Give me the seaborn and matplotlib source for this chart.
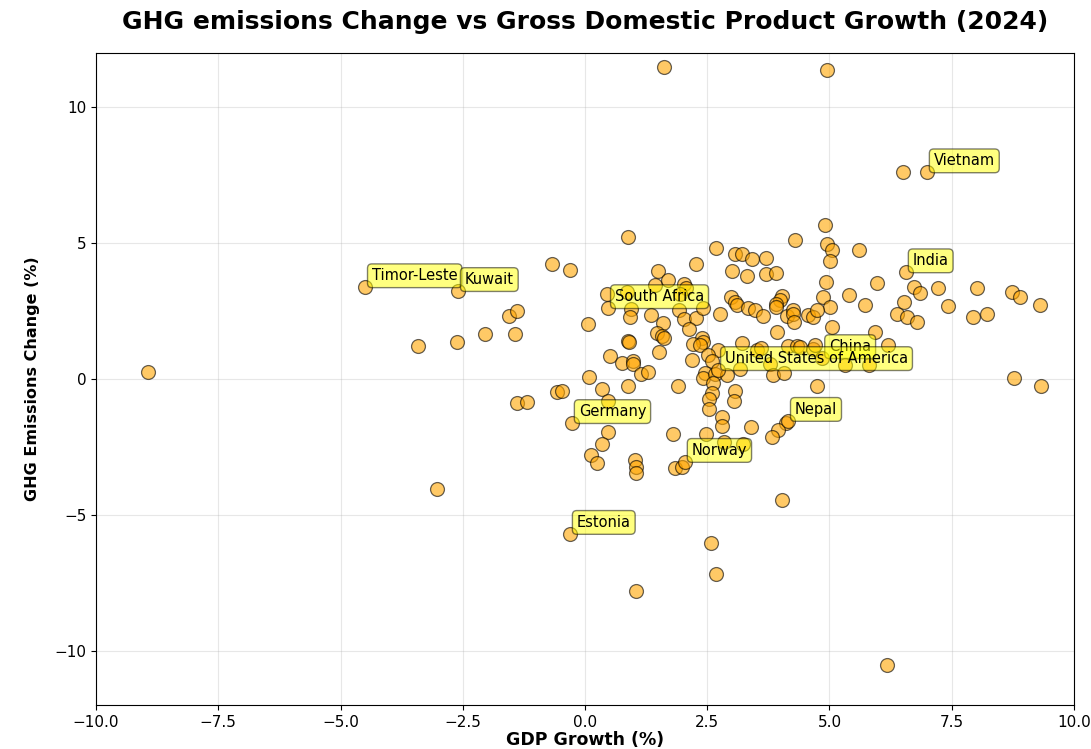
import matplotlib
matplotlib.use("Agg")
import matplotlib.pyplot as plt
import seaborn as sns
import pandas as pd

# Labelled countries
labeled_names = ["Timor-Leste", "Kuwait", "South Africa", "China",
                 "United States of America", "India", "Vietnam",
                 "Germany", "Estonia", "Norway", "Nepal"]
labeled_gdp = [-4.50, -2.60, 0.47, 4.85, 2.72, 6.56, 6.99, -0.27, -0.31, 2.04, 4.15]
labeled_ghg = [3.38, 3.24, 2.61, 0.77, 0.33, 3.93, 7.61, -1.62, -5.70, -3.05, -1.54]

# Other countries (GDP growth %, GHG change %)
other_gdp = [
    -8.94, -3.42, -2.62, -2.04, -1.43, -1.55, -1.39, -3.03, -1.39, -1.19,
    -0.67, -0.31, -0.57, -0.47,
    0.88, 0.06, 0.45, 0.86, 0.94, 0.92, 0.51, 0.76, 0.98, 0.98,
    1.15, 1.29, 0.08, 0.35, 0.88, 0.47, 0.47, 0.35, 0.12, 0.25,
    1.02, 1.04, 1.04, 1.43, 1.49, 1.70, 1.35, 1.60, 0.88, 0.90,
    1.47, 1.57, 1.62, 1.51, 1.90, 1.80, 1.84, 1.98, 1.04, 1.62,
    2.02, 2.07, 2.27, 2.68, 1.94, 1.92, 2.02, 2.27, 2.41, 2.76,
    2.13, 2.39, 2.41, 2.21, 2.35, 2.72, 2.19, 2.52, 2.60, 2.45,
    2.41, 2.66, 2.62, 2.60, 2.54, 2.54, 2.80, 2.80, 2.47, 2.84,
    2.58, 2.68,
    3.07, 3.21, 3.42, 3.70, 3.01, 3.31, 3.70, 3.91, 2.99, 3.07,
    3.11, 3.33, 3.48, 3.64, 4.03, 3.99, 3.91, 3.91, 4.13, 4.25,
    4.25, 4.27, 3.93, 3.21, 3.52, 3.60, 4.15, 4.34, 4.40, 3.17,
    2.90, 3.78, 3.84, 4.07, 3.07, 3.05, 3.39, 3.23, 4.03, 4.29,
    4.11, 3.95, 3.82,
    4.91, 4.95, 5.05, 5.01, 4.93, 4.87, 5.01, 5.05, 4.56, 4.66,
    4.74, 4.66, 4.70, 4.74, 5.40, 5.73, 5.60, 5.97, 5.93, 6.38,
    6.58, 6.52, 5.32, 5.81, 6.20, 4.95,
    6.50, 6.73, 6.85, 7.22, 8.02, 8.73, 8.90, 9.30, 7.42, 6.79,
    7.93, 8.22, 8.77, 9.33, 6.18,
]
other_ghg = [
    0.26, 1.21, 1.36, 1.65, 1.65, 2.32, 2.50, -4.04, -0.88, -0.85,
    4.23, 4.01, -0.48, -0.44,
    5.22, 2.02, 3.13, 3.20, 2.57, 2.28, 0.85, 0.59, 0.66, 0.55,
    0.18, 0.26, 0.07, -0.37, -0.26, -0.81, -1.95, -2.39, -2.79, -3.09,
    -2.98, -3.24, -3.46, 3.46, 3.97, 3.64, 2.35, 2.06, 1.40, 1.36,
    1.69, 1.58, 1.51, 0.99, -0.26, -2.02, -3.27, -3.24, -7.79, 11.47,
    3.49, 3.35, 4.23, 4.82, 3.13, 2.54, 2.21, 2.24, 2.61, 2.39,
    1.84, 1.51, 1.36, 1.29, 1.25, 1.07, 0.70, 0.88, 0.66, 0.22,
    0.04, 0.18, -0.15, -0.51, -0.74, -1.10, -1.40, -1.73, -2.02, -2.32,
    -6.03, -7.17,
    4.60, 4.60, 4.41, 4.45, 3.97, 3.79, 3.86, 3.90, 3.01, 2.83,
    2.72, 2.61, 2.54, 2.32, 3.05, 2.90, 2.76, 2.65, 2.32, 2.54,
    2.39, 2.10, 1.73, 1.32, 1.07, 1.14, 1.21, 1.21, 1.18, 0.37,
    0.15, 0.55, 0.15, 0.22, -0.44, -0.81, -1.76, -2.39, -4.45, 5.11,
    -1.62, -1.88, -2.13,
    5.66, 4.96, 4.74, 4.34, 3.57, 3.01, 2.65, 1.91, 2.35, 2.28,
    2.54, 1.10, 1.25, -0.26, 3.09, 2.72, 4.74, 3.53, 1.73, 2.39,
    2.28, 2.83, 0.51, 0.51, 1.25, 11.36,
    7.61, 3.38, 3.16, 3.35, 3.35, 3.20, 3.01, 2.72, 2.68, 2.10,
    2.28, 2.39, 0.04, -0.26, -10.51,
]

x_ticks = [-10.0, -7.5, -5.0, -2.5, 0.0, 2.5, 5.0, 7.5, 10.0]
y_ticks = [-10, -5, 0, 5, 10]

df = pd.DataFrame({
    "gdp": other_gdp + labeled_gdp,
    "ghg": other_ghg + labeled_ghg,
})

fig = plt.figure(figsize=(10.91, 7.49), dpi=100)
ax = fig.add_axes([0.088, 0.0587, 0.8964, 0.8705])

sns.scatterplot(data=df, x="gdp", y="ghg", ax=ax, color="orange", alpha=0.6,
                s=100, edgecolor="black", linewidth=0.9, zorder=3)

for name, gx, gy in zip(labeled_names, labeled_gdp, labeled_ghg):
    ax.annotate(name, (gx, gy), xytext=(5, 5), textcoords="offset points",
                fontsize=10.5, zorder=5,
                bbox=dict(boxstyle="round,pad=0.3", fc="yellow", alpha=0.5))

ax.set_xlim(-10, 10)
ax.set_ylim(-12, 12)
ax.set_xticks(x_ticks)
ax.set_yticks(y_ticks)
ax.tick_params(labelsize=11)
ax.grid(True, alpha=0.3, zorder=0)
ax.set_axisbelow(True)

ax.set_title("GHG emissions Change vs Gross Domestic Product Growth (2024)",
             fontsize=18, fontweight="bold", pad=17)
ax.set_xlabel("GDP Growth (%)", fontsize=12.5, fontweight="bold", labelpad=1)
ax.set_ylabel("GHG Emissions Change (%)", fontsize=11.5, fontweight="bold", labelpad=10)

fig.savefig("out.png", dpi=100)
